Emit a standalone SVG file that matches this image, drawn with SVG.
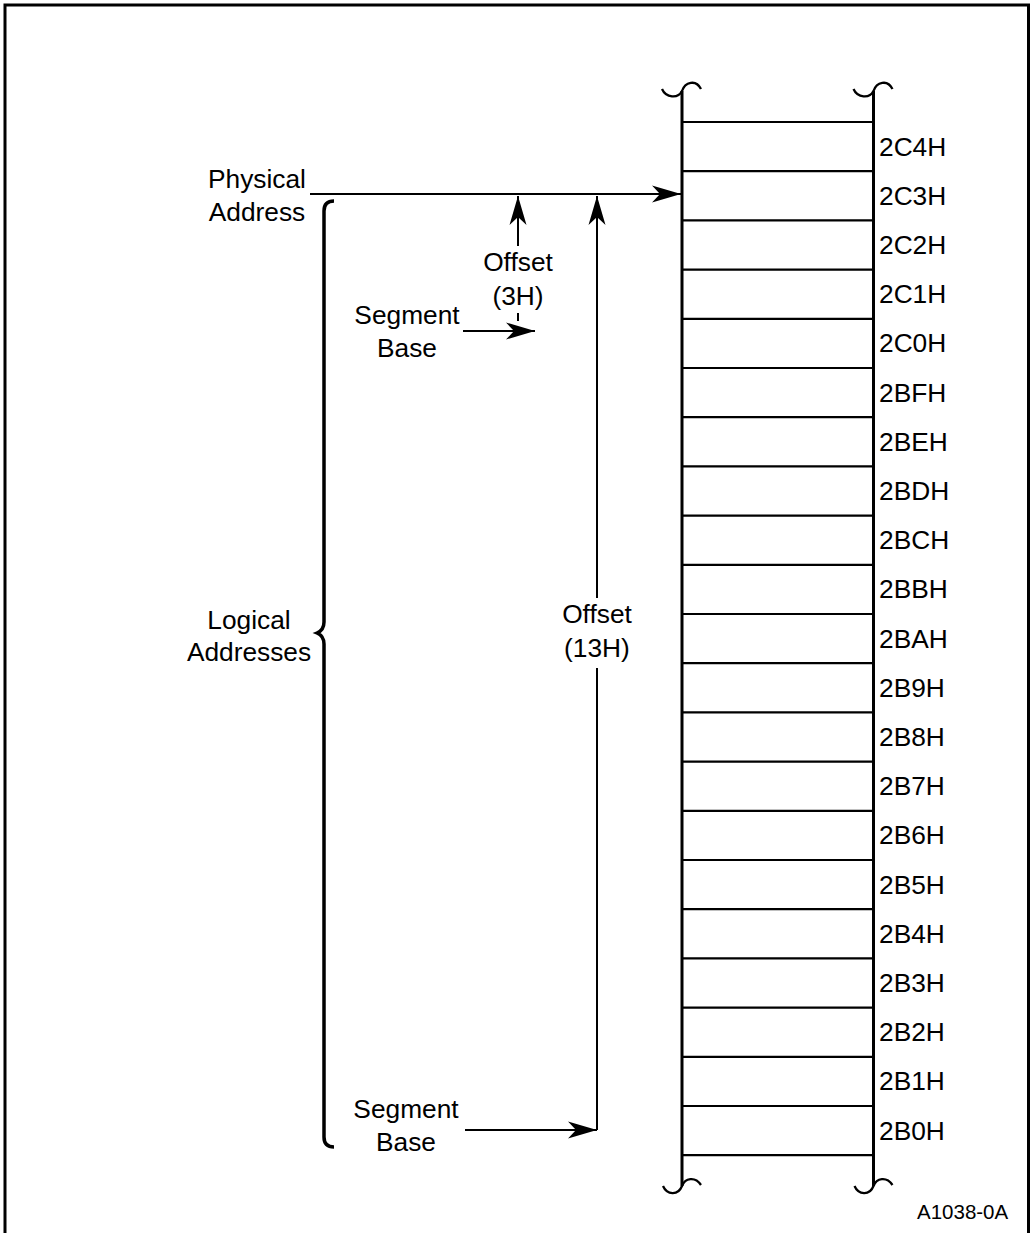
<svg xmlns="http://www.w3.org/2000/svg" width="1031" height="1233" viewBox="0 0 1031 1233">
<style>
text{font-family:"Liberation Sans",Arial,sans-serif;font-size:26.3px;fill:#000}
.c{text-anchor:middle}
.cell{stroke:#000;stroke-width:2.2;fill:none}
.col{stroke:#000;stroke-width:3;fill:none}
.sq{stroke:#000;stroke-width:2.3;fill:none}
.ar{stroke:#000;stroke-width:2;fill:none}
</style>
<defs>
<marker id="ah" viewBox="-30 -10 32 20" markerWidth="32" markerHeight="20" refX="0" refY="0" markerUnits="userSpaceOnUse" orient="auto">
<path d="M0,0 L-29,-8.5 L-21,0 L-29,8.5 Z" fill="#000"/>
</marker>
</defs>
<rect width="1031" height="1233" fill="#fff"/>
<g id="frame"><path d="M5,1233 L5,5 L1028.5,5 L1028.5,1233" stroke="#000" stroke-width="3" fill="none"/></g>
<g id="memory">
<path class="col" d="M682,91 L682,1186 M873.5,91 L873.5,1186"/>
<path class="sq" d="M662,89 C666,98 678,99 682,91 C685,82 696,79 701,89 M853.5,89 C857.5,98 869.5,99 873.5,91 C876.5,82 887.5,79 892.5,89"/>
<path class="sq" d="M663,1186 C667,1195 678,1196 682,1186 C685,1178 695,1176 701,1185 M854.5,1186 C858.5,1195 869.5,1196 873.5,1186 C876.5,1178 886.5,1176 892.5,1185"/>
<path class="cell" d="M682,122H873.5M682,171.2H873.5M682,220.4H873.5M682,269.6H873.5M682,318.8H873.5M682,368H873.5M682,417.2H873.5M682,466.4H873.5M682,515.6H873.5M682,564.8H873.5M682,614H873.5M682,663.2H873.5M682,712.4H873.5M682,761.6H873.5M682,810.8H873.5M682,860H873.5M682,909.2H873.5M682,958.4H873.5M682,1007.6H873.5M682,1056.8H873.5M682,1106H873.5M682,1155.2H873.5"/>
</g>
<g id="addresses">
<text x="879" y="155.6">2C4H</text>
<text x="879" y="204.8">2C3H</text>
<text x="879" y="254">2C2H</text>
<text x="879" y="303.2">2C1H</text>
<text x="879" y="352.4">2C0H</text>
<text x="879" y="401.6">2BFH</text>
<text x="879" y="450.8">2BEH</text>
<text x="879" y="500">2BDH</text>
<text x="879" y="549.2">2BCH</text>
<text x="879" y="598.4">2BBH</text>
<text x="879" y="647.6">2BAH</text>
<text x="879" y="696.8">2B9H</text>
<text x="879" y="746">2B8H</text>
<text x="879" y="795.2">2B7H</text>
<text x="879" y="844.4">2B6H</text>
<text x="879" y="893.6">2B5H</text>
<text x="879" y="942.8">2B4H</text>
<text x="879" y="992">2B3H</text>
<text x="879" y="1041.2">2B2H</text>
<text x="879" y="1090.4">2B1H</text>
<text x="879" y="1139.6">2B0H</text>
</g>
<g id="physical-address"><text class="c" x="257" y="188">Physical</text><text class="c" x="257" y="221">Address</text></g>
<g id="logical-addresses">
<text class="c" x="249" y="629">Logical</text><text class="c" x="249" y="661">Addresses</text>
<path d="M334,201 Q324,201 324,211 L324,622 Q324,630 317,633 Q324,636 324,644 L324,1137 Q324,1147 334,1147" stroke="#000" stroke-width="3.5" fill="none"/>
</g>
<g id="offset-3h"><text class="c" x="518" y="271">Offset</text><text class="c" x="518" y="305">(3H)</text></g>
<g id="segment-base-1"><text class="c" x="407" y="324">Segment</text><text class="c" x="407" y="357">Base</text></g>
<g id="offset-13h"><text class="c" x="597" y="623">Offset</text><text class="c" x="597" y="657">(13H)</text></g>
<g id="segment-base-2"><text class="c" x="406" y="1118">Segment</text><text class="c" x="406" y="1151">Base</text></g>
<g id="figure-id"><text x="917" y="1219" style="font-size:20.5px">A1038-0A</text></g>
<g id="connectors">
<path class="ar" d="M310,194 L681,194" marker-end="url(#ah)"/>
<path class="ar" d="M518,246 L518,196" marker-end="url(#ah)"/>
<path class="ar" d="M518,313 L518,321"/>
<path class="ar" d="M463,331 L535,331" marker-end="url(#ah)"/>
<path class="ar" d="M597,1130 L597,668 M597,598 L597,196" marker-end="url(#ah)"/>
<path class="ar" d="M465,1130 L597,1130" marker-end="url(#ah)"/>
</g>
</svg>
